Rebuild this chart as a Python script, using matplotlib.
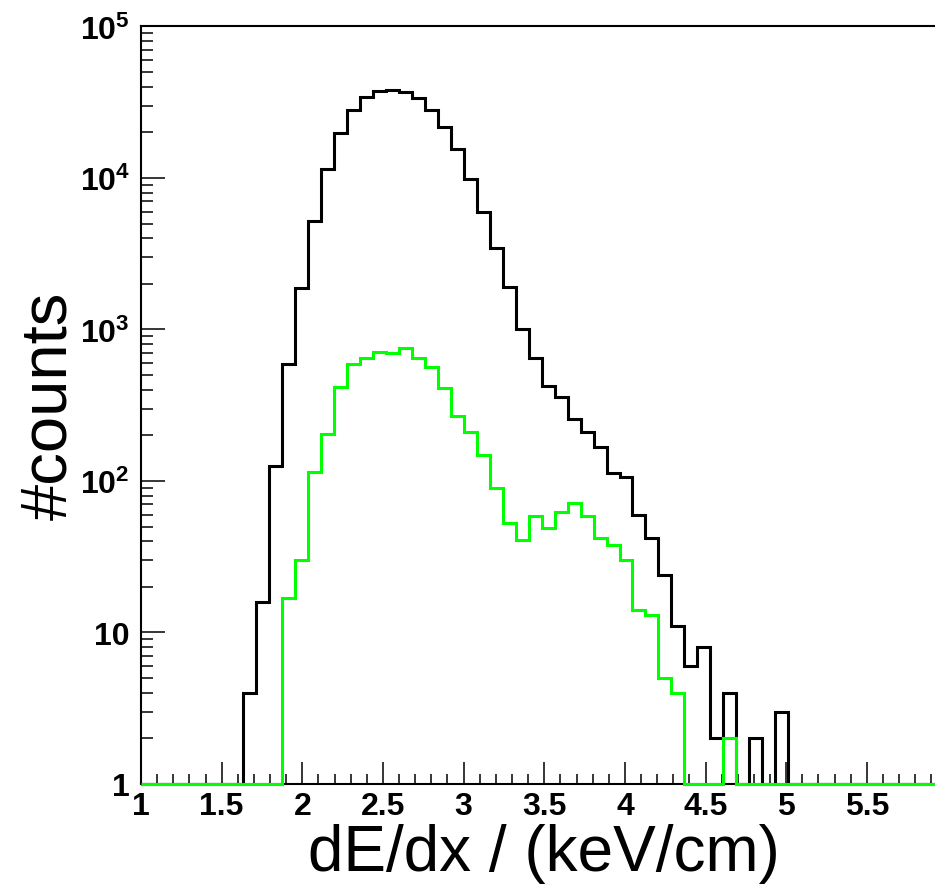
import numpy as np
import matplotlib
matplotlib.use("Agg")
import matplotlib.pyplot as plt
from matplotlib.ticker import FixedLocator, FixedFormatter, MultipleLocator

plt.rcParams['font.family'] = ['Liberation Sans', 'DejaVu Sans']
plt.rcParams['mathtext.fontset'] = 'custom'
plt.rcParams['mathtext.rm'] = 'Liberation Sans'
plt.rcParams['mathtext.bf'] = 'Liberation Sans:bold'

# histogram binning (dE/dx in keV/cm)
bin_lo = 1.632
bin_width = 0.0805

# counts per bin, starting at bin_lo
counts_all = [4, 16, 126, 592, 1880, 5230, 11500, 19800, 28100, 34100,
              37700, 38000, 36800, 33700, 28100, 21600, 15500, 9850, 5990, 3450,
              1900, 1000, 650, 422, 357, 257, 210, 167, 113, 106,
              60, 42, 24, 11, 6, 8, 2, 4, 0, 2,
              0, 3]
counts_sel = [0, 0, 0, 17, 30, 115, 204, 415, 592, 645,
              707, 696, 755, 645, 566, 409, 269, 211, 148, 90,
              53, 41, 59, 49, 62, 72, 59, 42, 38, 30,
              14, 13, 5, 4, 0, 0, 0, 2]

y_ticks = [1, 10, 100, 1000, 10000, 100000]
y_ticklabels = ['1', '10', r'$\mathbf{10^{2}}$', r'$\mathbf{10^{3}}$',
                r'$\mathbf{10^{4}}$', r'$\mathbf{10^{5}}$']
x_ticks = [1, 1.5, 2, 2.5, 3, 3.5, 4, 4.5, 5, 5.5]
x_ticklabels = ['1', '1.5', '2', '2.5', '3', '3.5', '4', '4.5', '5', '5.5']

xmin, xmax = 1.0, 6.0


def padded(counts):
    # pad with empty bins so the histogram spans the whole axis
    n_left = int(np.ceil((bin_lo - xmin) / bin_width))
    n_tot = int(np.ceil((xmax - bin_lo) / bin_width))
    vals = np.zeros(n_left + n_tot)
    vals[n_left:n_left + len(counts)] = counts
    edges = bin_lo + bin_width * (np.arange(len(vals) + 1) - n_left)
    edges = np.clip(edges, xmin, xmax)
    return edges, np.clip(vals, 1, None)


fig = plt.figure(figsize=(9.35, 8.87), dpi=100)
ax = fig.add_axes([0.1508, 0.115, 0.8626, 0.854])

e, v = padded(counts_all)
ax.stairs(v, e, baseline=None, color='black', lw=2.2, zorder=3, clip_on=False)
e, v = padded(counts_sel)
ax.stairs(v, e, baseline=None, color='#00ff00', lw=2.2, zorder=4, clip_on=False)

ax.set_yscale('log')
ax.set_ylim(1, 1e5)
ax.set_xlim(xmin, xmax)

ax.yaxis.set_major_locator(FixedLocator(y_ticks))
ax.yaxis.set_major_formatter(FixedFormatter(y_ticklabels))
ax.xaxis.set_major_locator(FixedLocator(x_ticks))
ax.xaxis.set_major_formatter(FixedFormatter(x_ticklabels))
ax.xaxis.set_minor_locator(MultipleLocator(0.1))

ax.tick_params(axis='both', which='both', direction='in', width=1.1,
               labelsize=23, top=False, right=False)
ax.tick_params(axis='x', which='major', length=16, pad=5)
ax.tick_params(axis='x', which='minor', length=7.5)
ax.tick_params(axis='y', which='major', length=17, pad=8)
ax.tick_params(axis='y', which='minor', length=8.5)
for lab in ax.get_xticklabels() + ax.get_yticklabels():
    lab.set_fontweight('bold')

for s in ['left', 'bottom', 'top']:
    ax.spines[s].set_linewidth(1.5)
ax.spines['right'].set_visible(False)

ax.set_xlabel('dE/dx / (keV/cm)', fontsize=46, labelpad=1.5)
ax.set_ylabel('#counts', fontsize=47, labelpad=0)

fig.savefig('out.png', dpi=100)
